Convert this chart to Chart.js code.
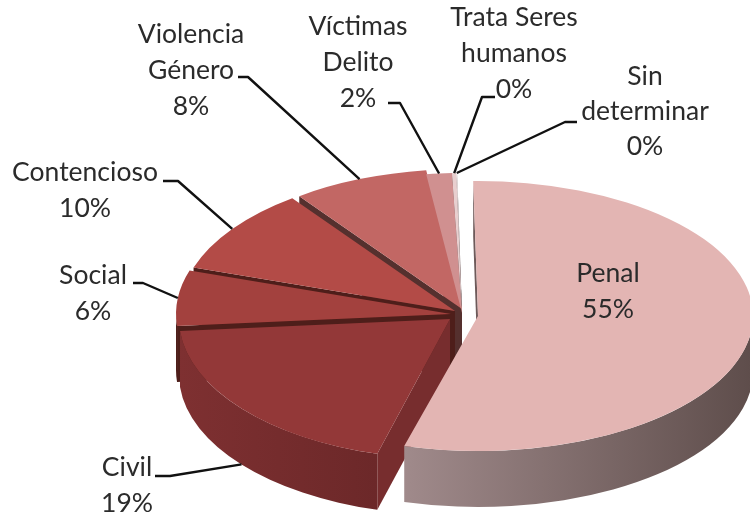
<!DOCTYPE html>
<html><head><meta charset="utf-8">
<style>html,body{margin:0;padding:0;background:#fff}canvas{display:block}</style>
<script src="https://cdn.jsdelivr.net/npm/chart.js@4"></script></head>
<body><canvas id="c" width="750" height="516"></canvas>
<script>
// data
const categories = ['Penal','Civil','Social','Contencioso','Violencia Género','Víctimas Delito','Trata Seres humanos','Sin determinar'];
const values = [54.6,19.3,6.4,9.9,8,1.5,0.25,0.05];
const percentLabels = ['55%','19%','6%','10%','8%','2%','0%','0%'];
// style
const topColors = ['#E3B5B3','#933838','#A3413E','#B34B47','#C26764','#D09090','#E8CFCF','#F6EEEE'];
const wallColors = [['#A08A8B','#5E4D4B'],['#7E3031','#6C2829'],['#4E1E1A','#4E1E1A'],['#4E1E1A','#4E1E1A'],['#55302E','#55302E'],['#55302E','#55302E'],['#4D3A3A','#4D3A3A'],['#4D3A3A','#4D3A3A']];
const cutColors = ['#6E5A5A','#772D2E','#4E1E1A','#4E1E1A','#55302E','#55302E','#4D3A3A','#4D3A3A'];
// layout
const DEPTH = 56;
const radiiX = [275,271,275,275,275,275,275,275];
const radiiY = [135,140,140,140,140,140,140,140];
const apexShift = [[26,0],[-2,3],[-1,-2],[3,-5],[10,-7],[10,-3],[10,-3],[10,-3]];
const labelLayout = [
 {x:608,y:[273,309],lines:['Penal']},
 {x:127,y:[467,503],lines:['Civil'],elbow:[[155,476],[170,476]]},
 {x:93,y:[275,311],lines:['Social'],elbow:[[133,283],[143,283]]},
 {x:85,y:[172,208],lines:['Contencioso'],elbow:[[163,181],[178,181]]},
 {x:191,y:[34,70,106],lines:['Violencia','Género'],elbow:[[238,77],[248,77]]},
 {x:358,y:[26,62,98],lines:['Víctimas','Delito'],elbow:[[388,103],[400,103]]},
 {x:514,y:[17,53,89],lines:['Trata Seres','humanos'],elbow:[[495,97],[482,97]]},
 {x:645,y:[76,111,146],lines:['Sin','determinar'],elbow:[[577,122],[565,122]]}
];

const pie3d = {
  id:'pie3d',
  beforeDatasetDraw(chart){
    const ctx = chart.ctx, arcs = chart.getDatasetMeta(0).data;
    const order = [7,6,5,4,3,2,1,0];
    // side walls, back to front
    for(const i of order){
      const a = arcs[i], a0 = a.startAngle, a1 = a.endAngle, RX = radiiX[i], RY = radiiY[i];
      const ax = a.x + apexShift[i][0], ay = a.y + apexShift[i][1];
      const px = t => ax + RX*Math.cos(t), py = t => ay + RY*Math.sin(t);
      const quad = t => {
        ctx.beginPath(); ctx.moveTo(ax,ay); ctx.lineTo(px(t),py(t));
        ctx.lineTo(px(t),py(t)+DEPTH); ctx.lineTo(ax,ay+DEPTH); ctx.closePath();
        ctx.fillStyle = cutColors[i]; ctx.fill();
      };
      if(Math.cos(a0) < 0.02) quad(a0);
      if(Math.cos(a1) > -0.1) quad(a1);
      const s = Math.max(a0,0), e = Math.min(a1,Math.PI);
      if(e > s){
        const g = ctx.createLinearGradient(px(e),0,px(s),0);
        g.addColorStop(0,wallColors[i][0]); g.addColorStop(1,wallColors[i][1]);
        ctx.beginPath();
        ctx.ellipse(ax,ay,RX,RY,0,s,e,false);
        ctx.ellipse(ax,ay+DEPTH,RX,RY,0,e,s,true);
        ctx.closePath(); ctx.fillStyle = g; ctx.fill();
      }
    }
    // top faces, drawn by the library's arc elements
    arcs.forEach((a,i)=>{
      const sx = radiiX[i]/a.outerRadius, sy = radiiY[i]/a.outerRadius;
      ctx.save();
      ctx.translate(a.x+apexShift[i][0],a.y+apexShift[i][1]);
      ctx.scale(sx,sy);
      ctx.translate(-a.x,-a.y);
      a.draw(ctx);
      ctx.restore();
    });
    return false;
  },
  afterDraw(chart){
    const ctx = chart.ctx, arcs = chart.getDatasetMeta(0).data;
    ctx.save();
    ctx.strokeStyle = '#111'; ctx.lineWidth = 2.4; ctx.lineJoin='round';
    labelLayout.forEach((l,i)=>{
      if(!l.elbow) return;
      const a = arcs[i], m = (a.startAngle+a.endAngle)/2;
      const ex = a.x+apexShift[i][0]+radiiX[i]*Math.cos(m);
      let ey = a.y+apexShift[i][1]+radiiY[i]*Math.sin(m);
      if(Math.sin(m)>0.3) ey += DEPTH;
      ctx.beginPath(); ctx.moveTo(l.elbow[0][0],l.elbow[0][1]); ctx.lineTo(l.elbow[1][0],l.elbow[1][1]); ctx.lineTo(ex,ey); ctx.stroke();
    });
    ctx.fillStyle = '#2b2b2b'; ctx.font = '26.5px Lato'; ctx.textAlign='center'; ctx.textBaseline='middle';
    labelLayout.forEach((l,i)=>{
      [...l.lines,percentLabels[i]].forEach((t,k)=>ctx.fillText(t,l.x,l.y[k]));
    });
    ctx.restore();
  }
};

new Chart(document.getElementById('c'),{
  type:'pie',
  data:{labels:categories,datasets:[{data:values,backgroundColor:topColors,borderWidth:0,hoverOffset:0}]},
  options:{
    responsive:false,animation:false,rotation:-1,
    layout:{padding:{left:154,right:0,top:116,bottom:0}},
    plugins:{legend:{display:false},tooltip:{enabled:false}}
  },
  plugins:[pie3d]
});
</script></body></html>
